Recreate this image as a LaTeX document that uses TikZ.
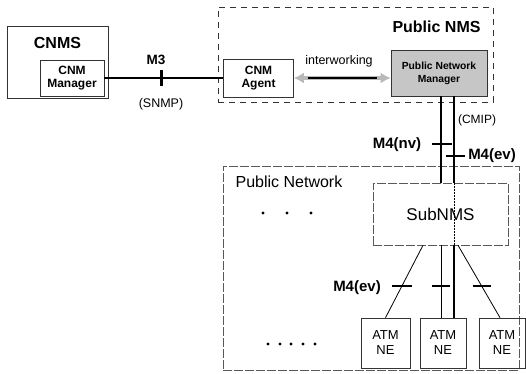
\documentclass[tikz,border=0pt]{standalone}
\usepackage{fontspec}
\setmainfont{Liberation Sans}
\usepackage{tikz}
\usetikzlibrary{arrows.meta}

\tikzset{
  box/.style={draw=black!80, line width=0.6pt, align=center, inner sep=0pt},
  thinbox/.style={box, draw=black!65, line width=0.5pt, dash pattern=on 9pt off 2pt},
  nmsbox/.style={draw=black!80, line width=0.7pt, dash pattern=on 6pt off 5pt},
  tick/.style={line width=2.4pt},
  iface/.style={line width=1.2pt},
  big/.style={font=\fontsize{16}{18}\selectfont\bfseries},
  ifname/.style={font=\fontsize{15}{17}\selectfont\bfseries},
  proto/.style={font=\fontsize{12}{14}\selectfont},
  small/.style={font=\fontsize{12}{13.5}\selectfont\bfseries},
}

\begin{document}
\begin{tikzpicture}[x=1pt,y=-1pt]
  \useasboundingbox (0,0) rectangle (526,373);

  % domains
  \node[box, minimum width=101pt, minimum height=72pt] (cnms) at (57.5,62) {};
  \node[big] at (57.5,43) {CNMS};
  \node[nmsbox, minimum width=275pt, minimum height=95pt] (pnms) at (355.5,54.5) {};
  \node[big] at (436.5,27) {Public NMS};
  \node[thinbox, minimum width=296pt, minimum height=204pt] (pnet) at (371,268) {};
  \node[font=\fontsize{16}{18}\selectfont] at (289,182) {Public Network};

  % managers and agents
  \node[box, small, minimum width=64pt, minimum height=36pt] (mgr) at (72,78) {CNM\\Manager};
  \node[box, small, minimum width=70pt, minimum height=38pt] (agent) at (258.5,78) {CNM\\Agent};
  \node[box, small, fill=gray!45, minimum width=96pt, minimum height=46pt,
        font=\fontsize{10.3}{13}\selectfont\bfseries] (pnm) at (439,73) {Public Network\\Manager};
  \node[thinbox, font=\fontsize{17}{19}\selectfont,
        minimum width=135pt, minimum height=62pt] (sub) at (440.5,214) {SubNMS};
  \node[box, font=\fontsize{13}{15}\selectfont, minimum width=49pt, minimum height=50pt] (atm1) at (385.5,343) {ATM\\NE};
  \node[box, font=\fontsize{13}{15}\selectfont, minimum width=46pt, minimum height=50pt] (atm2) at (443,343) {ATM\\NE};
  \node[box, font=\fontsize{13}{15}\selectfont, minimum width=46pt, minimum height=50pt] (atm3) at (502,343) {ATM\\NE};

  % M3
  \draw[iface] (mgr.east) -- coordinate[pos=.485] (m3) (agent.west);
  \draw[tick, line width=3pt] ([yshift=8pt]m3) -- ([yshift=-8pt]m3);
  \node[font=\fontsize{13.5}{15}\selectfont\bfseries] at (156,60) {M3};
  \node[font=\fontsize{12.5}{14}\selectfont] at (161,104) {(SNMP)};

  % interworking
  \draw[gray!55, line width=4.5pt, {Latex[length=10pt,width=11pt]}-{Latex[length=10pt,width=11pt]}]
    (agent.east) -- (agent.east -| pnm.west);
  \draw[line width=2.8pt, shorten <=14pt, shorten >=14pt] (agent.east) -- (agent.east -| pnm.west);
  \node[font=\fontsize{12.5}{14}\selectfont] at (339,61) {interworking};

  % M4
  \coordinate (nvx) at (441,0);
  \coordinate (evx) at (454,0);
  \coordinate (nvt) at (442,144);
  \coordinate (evt) at (455.5,156);
  \draw[iface] (nvx |- pnm.south) -- (nvx |- sub.north);
  \draw[iface] (evx |- pnm.south) -- (evx |- sub.north);
  \draw[line width=0.5pt, densely dotted] (evx |- sub.north) -- (evx |- sub.south);
  \draw[tick] ([xshift=-10pt]nvt) -- ([xshift=10pt]nvt);
  \draw[tick] ([xshift=-9.5pt]evt) -- ([xshift=9.5pt]evt);
  \node[proto] at (477,120) {(CMIP)};
  \node[ifname] at (397,145) {M4(nv)};
  \node[ifname] at (492,156) {M4(ev)};

  \draw[line width=0.8pt] ([xshift=-17.5pt]sub.south) -- coordinate[pos=.56] (t1) (atm1.north);
  \draw[line width=0.8pt] (nvx |- sub.south) -- coordinate[pos=.56] (t2) (nvx |- atm2.north);
  \draw[iface] (evx |- sub.south) -- (evx |- atm2.north);
  \draw[line width=0.8pt] ([xshift=17.5pt]sub.south) -- coordinate[pos=.56] (t3) ([xshift=-2pt]atm3.north);
  \draw[tick] ([xshift=-10pt]t1) -- ([xshift=10pt]t1);
  \draw[tick] ([xshift=-9pt]t2) -- ([xshift=9pt]t2);
  \draw[tick] ([xshift=-9pt]t3) -- ([xshift=9pt]t3);
  \node[ifname] at (357,288) {M4(ev)};

  % more of the same
  \foreach \x in {263,287,311} \fill (\x,213) circle (1.6pt);
  \foreach \x in {268,280,291,303,315} \fill (\x,344) circle (1.6pt);
\end{tikzpicture}
\end{document}
